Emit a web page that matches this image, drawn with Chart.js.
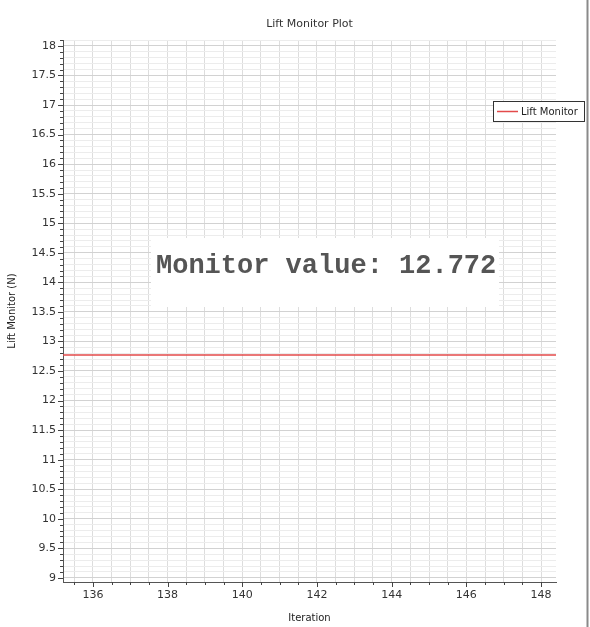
<!DOCTYPE html>
<html>
<head>
<meta charset="utf-8">
<script src="https://cdn.jsdelivr.net/npm/chart.js@4.4.1/dist/chart.umd.min.js"></script>
<style>
  html, body { margin: 0; padding: 0; background: #fff; }
  #wrap { position: relative; width: 590px; height: 627px; }
  canvas { display: block; }
</style>
</head>
<body>
<div id="wrap"><canvas id="c" width="590" height="627"></canvas></div>
<script>
// data
const iterations  = [135, 136, 137, 138, 139, 140, 141, 142, 143, 144, 145, 146, 147, 148, 149]
const liftMonitor = [12.772, 12.772, 12.772, 12.772, 12.772, 12.772, 12.772, 12.772, 12.772, 12.772, 12.772, 12.772, 12.772, 12.772, 12.772]
const xLabels     = [136, 138, 140, 142, 144, 146, 148]
const yLabels     = [9, 9.5, 10, 10.5, 11, 11.5, 12, 12.5, 13, 13.5, 14, 14.5, 15, 15.5, 16, 16.5, 17, 17.5, 18]

const chartTitle  = 'Lift Monitor Plot'
const seriesName  = 'Lift Monitor'
const monitorText = 'Monitor value: 12.7723'

const FONT = 'DejaVu Sans'
const RED  = '#e34a4a'

const isHalf = v => Math.abs(v * 2 - Math.round(v * 2)) < 1e-6

// title drawn over the middle of the plot area
const titlePlugin = {
  id: 'lmTitle',
  afterDraw(chart) {
    const { ctx, chartArea } = chart
    ctx.save()
    ctx.font = `11px "${FONT}"`
    ctx.fillStyle = '#333'
    ctx.textAlign = 'center'
    ctx.textBaseline = 'middle'
    ctx.fillText(chartTitle, (chartArea.left + chartArea.right) / 2, 24)
    ctx.restore()
  }
}

// short/long tick marks like the original plot
const tickPlugin = {
  id: 'lmTicks',
  afterDraw(chart) {
    const { ctx, chartArea, scales } = chart
    ctx.save()
    ctx.strokeStyle = '#444'
    ctx.lineWidth = 1
    ctx.beginPath()
    scales.x.ticks.forEach(t => {
      const px = Math.round(scales.x.getPixelForValue(t.value)) + 0.5
      const len = t.label ? 5 : 3
      ctx.moveTo(px, chartArea.bottom)
      ctx.lineTo(px, chartArea.bottom + len)
    })
    scales.y.ticks.forEach(t => {
      const py = Math.round(scales.y.getPixelForValue(t.value)) + 0.5
      const len = t.label ? 5 : 3
      ctx.moveTo(chartArea.left, py)
      ctx.lineTo(chartArea.left - len, py)
    })
    ctx.stroke()
    ctx.restore()
  }
}

// the white "Monitor value" readout pasted on top of the grid
const readoutPlugin = {
  id: 'lmReadout',
  afterDatasetsDraw(chart) {
    const { ctx } = chart
    const bx = 151, by = 238, bw = 348, bh = 69
    ctx.save()
    ctx.fillStyle = '#fff'
    ctx.fillRect(bx, by, bw, bh)
    ctx.beginPath()
    ctx.rect(bx, by, bw - 2, bh)
    ctx.clip()
    ctx.font = 'bold 27px "Liberation Mono"'
    ctx.fillStyle = '#555'
    ctx.textAlign = 'left'
    ctx.textBaseline = 'middle'
    ctx.fillText(monitorText, 156, 266)
    ctx.restore()
  }
}

// boxed legend on the right edge, plus the panel border
const legendPlugin = {
  id: 'lmLegend',
  afterDraw(chart) {
    const { ctx } = chart
    ctx.save()
    ctx.fillStyle = '#fff'
    ctx.fillRect(493, 101, 92, 21)
    ctx.strokeStyle = '#333'
    ctx.lineWidth = 1
    ctx.strokeRect(493.5, 101.5, 91, 20)
    ctx.strokeStyle = RED
    ctx.lineWidth = 1.5
    ctx.beginPath()
    ctx.moveTo(497, 111.5)
    ctx.lineTo(518, 111.5)
    ctx.stroke()
    ctx.font = `10px "${FONT}"`
    ctx.fillStyle = '#222'
    ctx.textBaseline = 'middle'
    ctx.fillText(chart.data.datasets[0].label, 521, 112)

    ctx.fillStyle = '#c4c4c4'; ctx.fillRect(586, 0, 1, 627)
    ctx.fillStyle = '#8a8a8a'; ctx.fillRect(587, 0, 1, 627)
    ctx.fillStyle = '#c4c4c4'; ctx.fillRect(588, 0, 1, 627)
    ctx.restore()
  }
}

new Chart(document.getElementById('c'), {
  type: 'line',
  data: {
    datasets: [{
      label: seriesName,
      data: iterations.map((it, i) => ({ x: it, y: liftMonitor[i] })),
      borderColor: RED,
      borderWidth: 1.5,
      pointRadius: 0,
      tension: 0
    }]
  },
  options: {
    responsive: false,
    animation: false,
    devicePixelRatio: 1,
    layout: { padding: { top: 40, right: 34, left: 0, bottom: 0 } },
    plugins: {
      legend: { display: false },
      title: { display: false },
      tooltip: { enabled: false }
    },
    scales: {
      x: {
        type: 'linear',
        min: 135.2,
        max: 148.4,
        afterFit: s => { s.height = 45 },
        afterBuildTicks: s => { s.ticks = s.ticks.filter(t => isHalf(t.value)) },
        ticks: {
          stepSize: 0.5,
          includeBounds: false,
          autoSkip: false,
          maxRotation: 0,
          padding: 7,
          color: '#333',
          font: { family: FONT, size: 11 },
          callback: v => xLabels.includes(v) ? String(v) : ''
        },
        grid: { color: '#dddddd', drawTicks: false },
        border: { color: '#555', width: 1 },
        title: {
          display: true,
          text: 'Iteration',
          color: '#222',
          font: { family: FONT, size: 10 },
          padding: { top: 0, bottom: 3 }
        }
      },
      y: {
        min: 8.93,
        max: 18.1,
        afterFit: s => { s.width = 63 },
        afterBuildTicks: s => { s.ticks = s.ticks.filter(t => Math.abs(t.value * 10 - Math.round(t.value * 10)) < 1e-6) },
        ticks: {
          stepSize: 0.1,
          includeBounds: false,
          autoSkip: false,
          padding: 7,
          color: '#333',
          font: { family: FONT, size: 11 },
          callback: v => {
            const r = Math.round(v * 10) / 10
            return yLabels.includes(r) ? String(r) : ''
          }
        },
        grid: {
          drawTicks: false,
          color: c => isHalf(c.tick.value) ? '#d2d2d2' : '#ececec'
        },
        border: { color: '#555', width: 1 },
        title: {
          display: true,
          text: 'Lift Monitor (N)',
          color: '#222',
          font: { family: FONT, size: 10 },
          padding: { top: 6, bottom: 0 }
        }
      }
    }
  },
  plugins: [titlePlugin, tickPlugin, readoutPlugin, legendPlugin]
})
</script>
</body>
</html>
